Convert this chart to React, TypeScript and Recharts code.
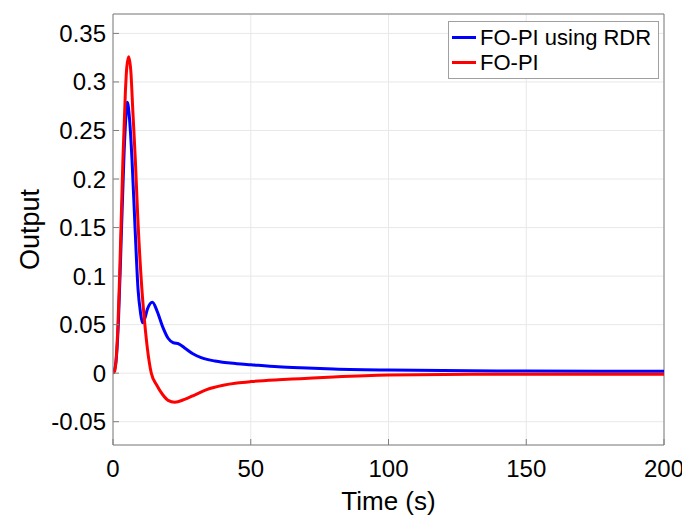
import React from "react";
import {
  LineChart,
  Line,
  XAxis,
  YAxis,
  CartesianGrid,
  ReferenceLine,
} from "recharts";

// time (s) and output
const RDR_T = [0, 1, 2, 3, 4, 4.7, 5.2, 6, 6.9, 8, 9.1, 10, 10.7, 11.5, 12.5, 14.3, 16, 18, 20, 21.8, 24, 26, 29, 32, 37, 45, 50, 60, 68, 80, 100, 150, 200];
const RDR_Y = [0, 0.01, 0.055, 0.14, 0.225, 0.265, 0.279, 0.262, 0.22, 0.15, 0.086, 0.062, 0.052, 0.056, 0.066, 0.073, 0.064, 0.048, 0.036, 0.0315, 0.03, 0.026, 0.02, 0.016, 0.0125, 0.0098, 0.0087, 0.0066, 0.0055, 0.0043, 0.0032, 0.0022, 0.002];

const PI_T = [0, 0.6, 1.8, 2.4, 3.6, 4.5, 5, 5.7, 6.5, 7.2, 8.1, 9, 10.5, 11.5, 12.5, 13.9, 16, 18, 20, 22.4, 26, 30, 34, 40, 45, 50, 60, 68, 80, 100, 130, 200];
const PI_Y = [0, 0.002, 0.05, 0.1, 0.22, 0.29, 0.315, 0.326, 0.31, 0.27, 0.22, 0.16, 0.086, 0.052, 0.025, 0, -0.013, -0.022, -0.028, -0.03, -0.027, -0.022, -0.017, -0.0125, -0.0102, -0.0087, -0.0068, -0.0057, -0.004, -0.002, -0.0012, -0.001];

const X_TICKS = [0, 50, 100, 150, 200];
const Y_TICKS = [-0.05, 0, 0.05, 0.1, 0.15, 0.2, 0.25, 0.3, 0.35];

const SERIES = [
  { name: "FO-PI using RDR", color: "#0000ff" },
  { name: "FO-PI", color: "#ff0000" },
];

const rdrData = RDR_T.map((t, i) => ({ t, y: RDR_Y[i] }));
const piData = PI_T.map((t, i) => ({ t, y: PI_Y[i] }));

const FONT = "'Liberation Sans', Arial, sans-serif";
const AXIS = "#7f7f7f";

const LegendBox = () => (
  <div
    style={{
      position: "absolute",
      left: 448,
      top: 21,
      width: 200,
      border: "1px solid #a0a0a0",
      background: "#fff",
      padding: "3px 6px 3px 3px",
      fontFamily: FONT,
      fontSize: 22,
      color: "#000",
      lineHeight: "25px",
    }}
  >
    {SERIES.map((e) => (
      <div key={e.name} style={{ display: "flex", alignItems: "center" }}>
        <span style={{ width: 24, height: 3, background: e.color, marginRight: 4, flex: "none" }} />
        <span>{e.name}</span>
      </div>
    ))}
  </div>
);

export default function App() {
  return (
    <div style={{ position: "absolute", left: 0, top: 0, width: 682, height: 515, background: "#fff" }}>
      <LineChart width={682} height={515} margin={{ top: 14, right: 18, left: 0, bottom: 0 }}>
        <CartesianGrid stroke="#e8e8e8" strokeWidth={1} />
        <XAxis
          type="number"
          dataKey="t"
          domain={[0, 200]}
          ticks={X_TICKS}
          allowDataOverflow
          height={70}
          stroke={AXIS}
          tickSize={-6}
          tickMargin={21}
          tick={{ fill: "#000", fontSize: 24, fontFamily: FONT }}
          label={{
            value: "Time (s)",
            position: "insideBottom",
            offset: 5,
            style: { fill: "#000", fontSize: 26, fontFamily: FONT },
          }}
        />
        <YAxis
          type="number"
          domain={[-0.074, 0.37]}
          ticks={Y_TICKS}
          allowDataOverflow
          width={113}
          stroke={AXIS}
          tickSize={-6}
          tickMargin={13}
          tickFormatter={(v: number) => String(Number(v.toFixed(2)))}
          tick={{ fill: "#000", fontSize: 24, fontFamily: FONT }}
          label={{
            content: (props: any) => {
              const vb = props.viewBox || {};
              const cx = 30;
              const cy = vb.y + vb.height / 2;
              return (
                <text
                  x={cx}
                  y={cy}
                  transform={`rotate(-90 ${cx} ${cy})`}
                  textAnchor="middle"
                  dominantBaseline="central"
                  style={{ fill: "#000", fontSize: 27, fontFamily: FONT }}
                >
                  Output
                </text>
              );
            },
          }}
        />
        <ReferenceLine x={200} stroke={AXIS} />
        <ReferenceLine y={0.37} stroke={AXIS} />
        <Line
          data={rdrData}
          dataKey="y"
          name={SERIES[0].name}
          type="monotone"
          stroke={SERIES[0].color}
          strokeWidth={3}
          dot={false}
          isAnimationActive={false}
        />
        <Line
          data={piData}
          dataKey="y"
          name={SERIES[1].name}
          type="monotone"
          stroke={SERIES[1].color}
          strokeWidth={3}
          dot={false}
          isAnimationActive={false}
        />
      </LineChart>
      <LegendBox />
    </div>
  );
}
